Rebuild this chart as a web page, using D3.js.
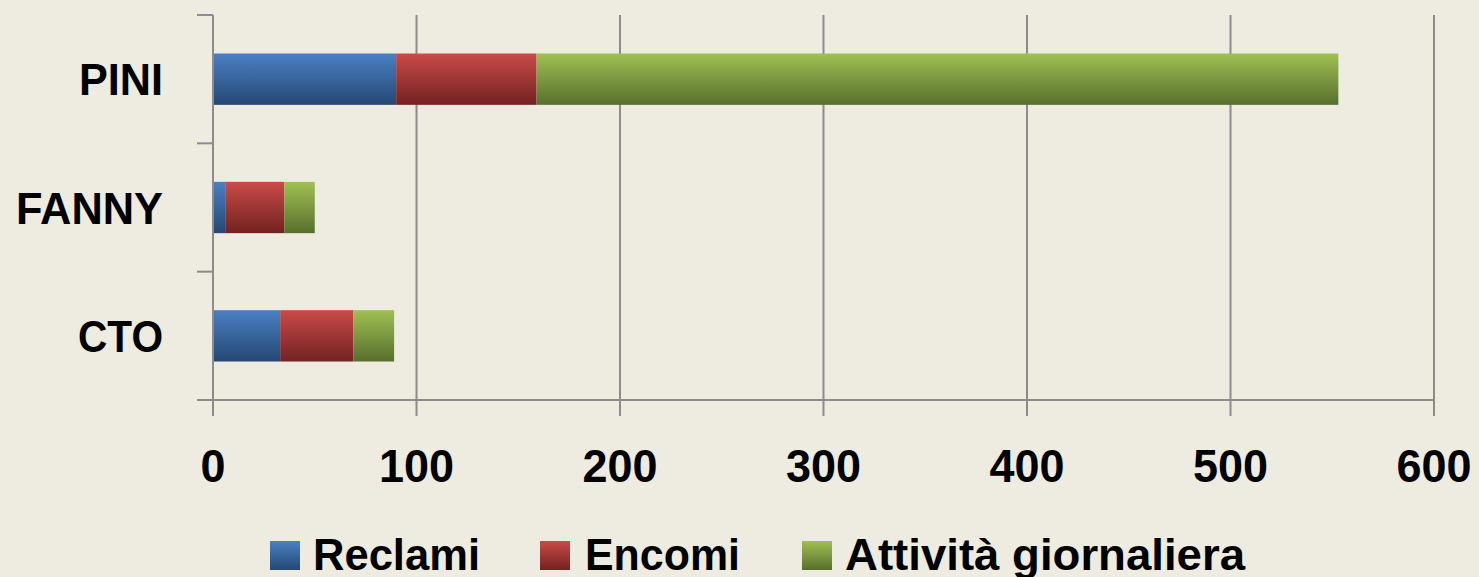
<!DOCTYPE html>
<html><head><meta charset="utf-8">
<script src="https://cdn.jsdelivr.net/npm/d3@7"></script>
<style>html,body{margin:0;padding:0;background:#EEEBE1;}svg{display:block;}</style>
</head><body>
<svg id="c" width="1479" height="577"></svg>
<script>
const categories = ["PINI", "FANNY", "CTO"];
const seriesNames = ["Reclami", "Encomi", "Attività giornaliera"];
const reclami = [90, 6, 33];
const encomi = [69, 29, 36];
const attivita = [394, 15, 20];
const xTicks = [0, 100, 200, 300, 400, 500, 600];

(function () {
const svg = d3.select("#c");
const W = 1479, H = 577;
svg.append("rect").attr("width", W).attr("height", H).attr("fill", "#EEEBE1");
const pL = 213, pR = 1434, pT = 15, pB = 400;
const x = d3.scaleLinear().domain([0, 600]).range([pL, pR]);
const y = d3.scaleBand().domain(categories).range([pT, pB]).paddingInner(0.6).paddingOuter(0.3);

const colors = [["#4A80C4", "#254873"], ["#C94B48", "#722222"], ["#A0C052", "#586F2D"]];
const defs = svg.append("defs");
colors.forEach((c, i) => {
  const g = defs.append("linearGradient").attr("id", "g" + i).attr("x1", 0).attr("y1", 0).attr("x2", 0).attr("y2", 1);
  g.append("stop").attr("offset", "0%").attr("stop-color", c[0]);
  g.append("stop").attr("offset", "100%").attr("stop-color", c[1]);
});

svg.append("g").selectAll("line").data(xTicks.slice(1)).join("line")
  .attr("x1", d => x(d)).attr("x2", d => x(d)).attr("y1", pT).attr("y2", pB + 16)
  .attr("stroke", "#8C8C8C").attr("stroke-width", 2);
svg.append("line").attr("x1", x(0)).attr("x2", x(0)).attr("y1", pB).attr("y2", pB + 16)
  .attr("stroke", "#8C8C8C").attr("stroke-width", 2);

const rows = categories.map((c, i) => ({cat: c, "Reclami": reclami[i], "Encomi": encomi[i], "Attività giornaliera": attivita[i]}));
const stack = d3.stack().keys(seriesNames)(rows);
stack.forEach((s, si) => {
  svg.append("g").selectAll("rect").data(s).join("rect")
    .attr("x", d => x(d[0])).attr("width", d => x(d[1]) - x(d[0]))
    .attr("y", d => y(d.data.cat)).attr("height", y.bandwidth())
    .attr("fill", `url(#g${si})`);
});

svg.append("line").attr("x1", pL).attr("x2", pL).attr("y1", pT).attr("y2", pB)
  .attr("stroke", "#8C8C8C").attr("stroke-width", 2);
const step = (pB - pT) / categories.length;
svg.append("g").selectAll("line").data(d3.range(categories.length + 1)).join("line")
  .attr("x1", pL - 16).attr("x2", pL).attr("y1", d => pT + d * step).attr("y2", d => pT + d * step)
  .attr("stroke", "#8C8C8C").attr("stroke-width", 2);
svg.append("line").attr("x1", pL - 16).attr("x2", pR).attr("y1", pB).attr("y2", pB)
  .attr("stroke", "#8C8C8C").attr("stroke-width", 2);

const font = "'Liberation Sans', Arial, sans-serif";
const catWidths = {"PINI": 84, "FANNY": 147, "CTO": 85};
svg.append("g").selectAll("text").data(categories).join("text")
  .attr("x", 163).attr("y", d => y(d) + y.bandwidth() / 2 + 16)
  .attr("text-anchor", "end").attr("font-family", font).attr("font-weight", "bold")
  .attr("font-size", 45).attr("fill", "#000")
  .attr("textLength", d => catWidths[d]).attr("lengthAdjust", "spacingAndGlyphs")
  .text(d => d);

svg.append("g").selectAll("text").data(xTicks).join("text")
  .attr("x", d => x(d)).attr("y", 482)
  .attr("text-anchor", "middle").attr("font-family", font).attr("font-weight", "bold")
  .attr("font-size", 46).attr("fill", "#000")
  .attr("textLength", d => String(d).length * 25).attr("lengthAdjust", "spacingAndGlyphs")
  .text(d => d);

const legendX = [270, 540, 802];
const legendTX = [313, 585, 845];
const legendW = [167, 155, 400];
const lg = svg.append("g");
seriesNames.forEach((n, i) => {
  lg.append("rect").attr("x", legendX[i]).attr("y", 541).attr("width", 30).attr("height", 29).attr("fill", `url(#g${i})`);
  lg.append("text").attr("x", legendTX[i]).attr("y", 570)
    .attr("font-family", font).attr("font-weight", "bold").attr("font-size", 45).attr("fill", "#000")
    .attr("textLength", legendW[i]).attr("lengthAdjust", "spacingAndGlyphs")
    .text(n);
});
})();
</script>
</body></html>
